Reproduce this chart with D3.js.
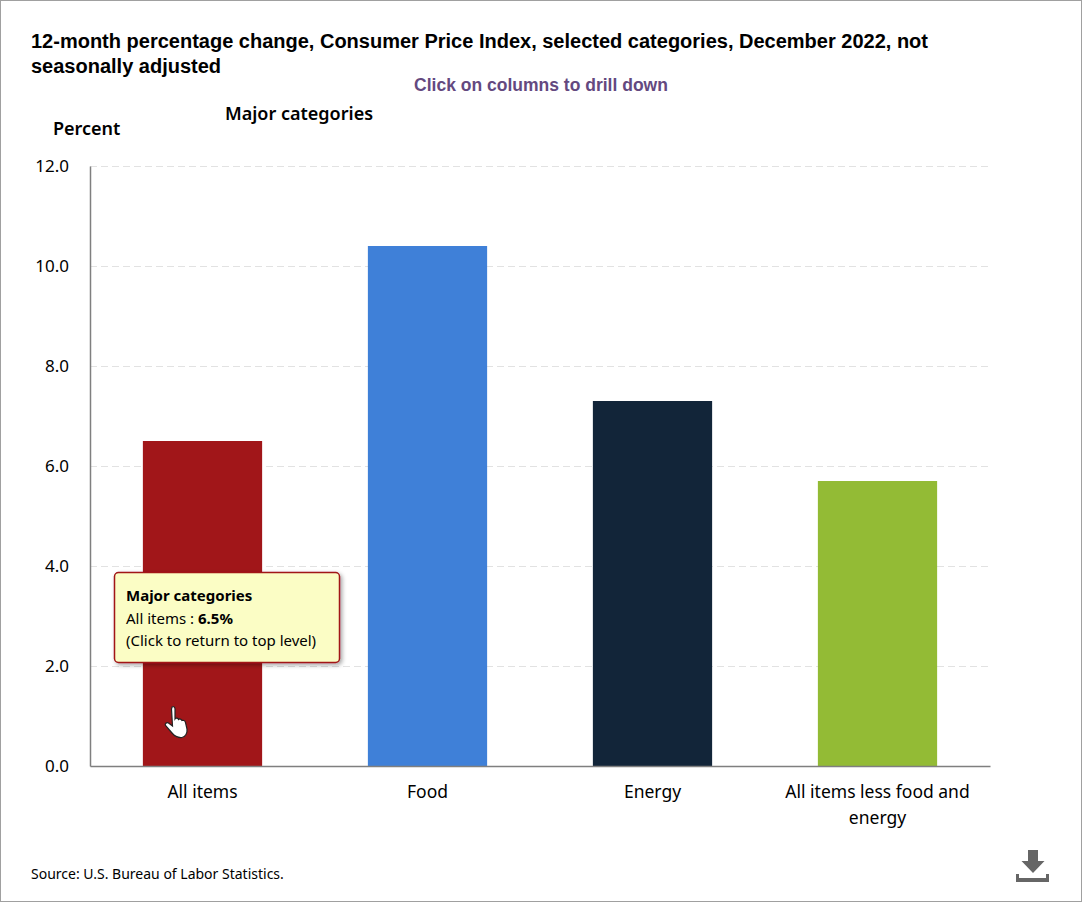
<!DOCTYPE html>
<html>
<head>
<meta charset="utf-8">
<script src="https://cdn.jsdelivr.net/npm/d3@7"></script>
<style>
html,body{margin:0;padding:0;background:#fff;overflow:hidden;}
svg{display:block;}
text{font-family:"Noto Sans",sans-serif;fill:#000;}
</style>
</head>
<body>
<svg width="1082" height="902"></svg>
<script>
const categories = ['All items','Food','Energy','All items less food and energy'];
const values = [6.5,10.4,7.3,5.7];
const colors = ['#a11619','#3f80d8','#122539','#93bb35'];
const yTicks = [0,2,4,6,8,10,12];
const titleLines = ['12-month percentage change, Consumer Price Index, selected categories, December 2022, not','seasonally adjusted'];

const svg = d3.select('svg');
const width = +svg.attr('width');
const height = +svg.attr('height');

const margin = {top:166,right:91,bottom:136,left:90};
const innerWidth = width - margin.left - margin.right;
const innerHeight = height - margin.top - margin.bottom;

// outer frame
svg.append('rect')
  .attr('x',0.5).attr('y',0.5)
  .attr('width',width-1).attr('height',height-1)
  .attr('fill','#fff').attr('stroke','#a0a0a0');

const defs = svg.append('defs');
const shadow = defs.append('filter').attr('id','tipShadow')
  .attr('x','-10%').attr('y','-10%').attr('width','120%').attr('height','125%');
shadow.append('feDropShadow')
  .attr('dx',2).attr('dy',2).attr('stdDeviation',2)
  .attr('flood-color','#000').attr('flood-opacity',0.35);

// titles
svg.append('g').selectAll('text').data(titleLines).join('text')
  .attr('x',31).attr('y',(d,i) => 48 + i*25)
  .style('font-family','"Liberation Sans",Arial,sans-serif')
  .style('font-weight','bold').style('font-size','20px')
  .text(d => d);

svg.append('text').attr('x',541).attr('y',91)
  .attr('text-anchor','middle')
  .style('font-family','"Liberation Sans",Arial,sans-serif')
  .style('font-weight','bold').style('font-size','17.5px')
  .style('fill','#64497f')
  .text('Click on columns to drill down');

svg.append('text').attr('x',225).attr('y',120)
  .style('font-weight','600').style('font-size','18px')
  .text('Major categories');

svg.append('text').attr('x',53).attr('y',135)
  .style('font-weight','600').style('font-size','18px')
  .text('Percent');

const xScale = d3.scaleBand()
  .domain(categories)
  .range([0,innerWidth-1])
  .paddingInner(0.47)
  .paddingOuter(0.235);

const yScale = d3.scaleLinear()
  .domain([0,12])
  .range([innerHeight,0]);

const g = svg.append('g')
  .attr('transform',`translate(${margin.left},${margin.top})`);

// grid
g.append('g').selectAll('line').data(yTicks.filter(d => d > 0)).join('line')
  .attr('x1',0).attr('x2',innerWidth-1)
  .attr('y1',d => yScale(d)+0.5).attr('y2',d => yScale(d)+0.5)
  .attr('stroke','#e2e2e2').attr('stroke-dasharray','7,4');

// bars
g.append('g').selectAll('rect').data(categories).join('rect')
  .attr('x',d => xScale(d))
  .attr('y',(d,i) => yScale(values[i]))
  .attr('width',xScale.bandwidth())
  .attr('height',(d,i) => innerHeight - yScale(values[i]))
  .attr('fill',(d,i) => colors[i]);

// axes
const yAxis = d3.axisLeft(yScale).tickValues(yTicks).tickFormat(d3.format('.1f')).tickSize(0).tickPadding(21);
const yG = g.append('g').call(yAxis);
yG.select('.domain').attr('stroke','#7f7f7f').attr('stroke-width',1.5);
yG.selectAll('text').style('font-size','17px').style('font-family','"Noto Sans",sans-serif');

const xAxis = d3.axisBottom(xScale).tickSize(0).tickPadding(0);
const xG = g.append('g').attr('transform',`translate(0,${innerHeight})`).call(xAxis);
xG.select('.domain').attr('stroke','#7f7f7f').attr('stroke-width',1.5);
xG.selectAll('.tick text').each(function(d){
  const t = d3.select(this);
  const lines = d === 'All items less food and energy' ? ['All items less food and','energy'] : [d];
  t.text(null).attr('y',0).attr('dy',null)
    .style('font-size','17.5px').style('font-family','"Noto Sans",sans-serif');
  lines.forEach((s,i) => t.append('tspan').attr('x',0).attr('y',32 + i*26).text(s));
});

// source
svg.append('text').attr('x',31).attr('y',879)
  .style('font-size','14px').text('Source: U.S. Bureau of Labor Statistics.');

// tooltip
const tip = svg.append('g').attr('transform','translate(114,572)');
tip.append('rect')
  .attr('x',0.5).attr('y',0.5).attr('width',225).attr('height',90).attr('rx',4)
  .attr('fill','#fbfdc5').attr('stroke','#a11619').attr('stroke-width',1.5)
  .attr('filter','url(#tipShadow)');
tip.append('text').attr('x',12).attr('y',29)
  .style('font-size','15px').style('font-weight','bold').text('Major categories');
const tipLine = tip.append('text').attr('x',12).attr('y',52).style('font-size','15px');
tipLine.append('tspan').text(categories[0] + ' : ');
tipLine.append('tspan').style('font-weight','bold').text(d3.format('.1f')(values[0]) + '%');
tip.append('text').attr('x',12).attr('y',74)
  .style('font-size','15px').text('(Click to return to top level)');

// hand cursor
svg.append('path')
  .attr('transform','translate(164,706)')
  .attr('d','M8 1 C9.5 0 11 1 11 3 L11 13 C12 11.5 14 12 14.5 13.5 C15.5 12.5 17.5 13 18 14.5 C19 14 21 14.5 21.5 16.5 L23 23 C23.5 27 21.5 31 18 31.5 C13 32 10.5 30 8 27 L1.5 19.5 C0.5 18 2.5 16 4.5 17 L8.5 20 L7.5 3 Z')
  .attr('fill','#fff').attr('stroke','#222').attr('stroke-width',1.2);

// download icon
const icon = svg.append('g').attr('fill','#666');
icon.append('path').attr('d','M1028 850 H1038 V861 H1044.5 L1033 873 L1021.5 861 H1028 Z');
icon.append('path').attr('d','M1016 874 H1019 V878 H1046 V874 H1049 V882 H1016 Z');
</script>
</body>
</html>
